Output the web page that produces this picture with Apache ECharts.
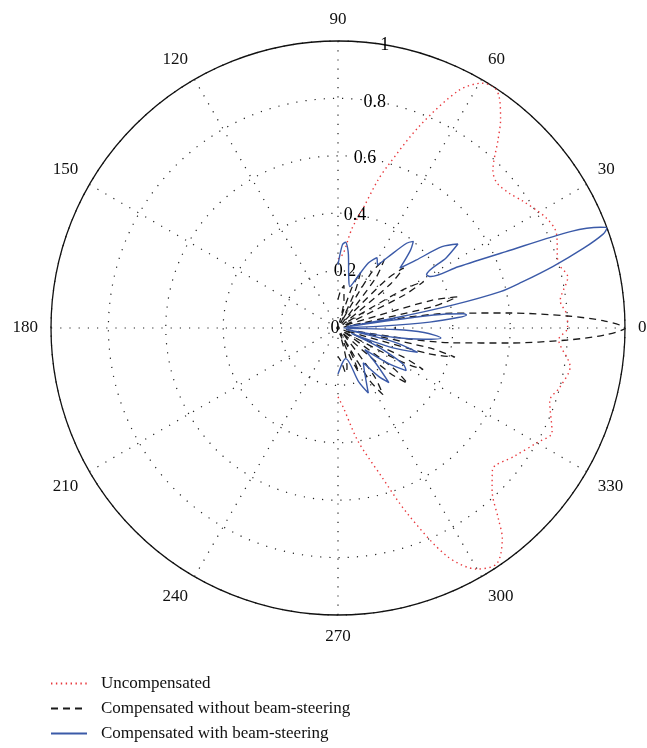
<!DOCTYPE html>
<html>
<head>
<meta charset="utf-8">
<script src="https://cdn.jsdelivr.net/npm/echarts@6/dist/echarts.min.js"></script>
<style>
  html, body { margin: 0; padding: 0; background: #fff; }
  #chart { width: 647px; height: 748px; }
</style>
</head>
<body>
<div id="chart"></div>
<script>
// 角度刻度、半径刻度
var angleTicks = [0, 30, 60, 90, 120, 150, 180, 210, 240, 270, 300, 330];
var radiusTicks = ['0', '0.2', '0.4', '0.6', '0.8', '1'];
var seriesNames = ['Uncompensated', 'Compensated without beam-steering', 'Compensated with beam-steering'];

// 未补偿 (角度, 幅度)
var uncompAngle = [90, 86, 82, 78, 75, 73, 68, 63, 59.5, 57, 55, 52, 49.6, 45.5, 42.5, 38, 34.7, 28, 23.6, 16.5, 12.5, 7, 3, 0,
    -3, -9.5, -15, -19, -26, -30, -36, -42.5, -46.5, -50, -52, -56, -60, -64.5, -69.5, -74, -80, -86, -90];
var uncompR = [0.24, 0.26, 0.35, 0.43, 0.53, 0.59, 0.76, 0.93, 0.99, 1.0, 0.98, 0.92, 0.86, 0.77, 0.75, 0.76, 0.78, 0.82, 0.83, 0.80, 0.82, 0.78, 0.80, 0.80,
    0.77, 0.82, 0.80, 0.78, 0.83, 0.80, 0.76, 0.73, 0.78, 0.87, 0.93, 0.99, 0.97, 0.88, 0.69, 0.53, 0.40, 0.28, 0.24];

// 补偿，无波束偏转
var noSteerAngle = [90, 86, 82, 78, 75, 71, 68, 65, 62, 59, 56, 53, 49, 45, 42.5, 40, 35, 30.5, 28.5, 26.5, 21, 16.5, 14.6, 12.7, 9.5,
    7.4, 5, 3, 1.5, 0, -1.5, -3, -5, -7.4, -9.5, -12.3, -14, -15.8, -20, -24, -26, -28, -33, -36, -38.5, -41, -47,
    -53, -56, -59, -61, -63, -65, -67, -72, -77, -80, -84, -90];
var noSteerR = [0.10, 0.13, 0.15, 0.10, 0.02, 0.15, 0.21, 0.14, 0.02, 0.22, 0.29, 0.22, 0.02, 0.24, 0.31, 0.24, 0.02, 0.26, 0.34, 0.26, 0.02, 0.34, 0.43, 0.34, 0.02,
    0.40, 0.60, 0.80, 0.93, 1.0, 0.93, 0.80, 0.60, 0.40, 0.02, 0.33, 0.42, 0.33, 0.02, 0.25, 0.33, 0.25, 0.02, 0.24, 0.31, 0.24, 0.02,
    0.21, 0.28, 0.21, 0.02, 0.12, 0.17, 0.12, 0.02, 0.14, 0.16, 0.12, 0.10];

// 补偿，有波束偏转
var steerAngle = [90, 87, 85, 82, 78, 74, 70, 65, 61, 58, 55, 51, 49, 47, 44, 41, 38, 35, 33, 31, 29, 27, 24.5, 22.5, 21, 20.4, 19.5, 18, 16, 14, 12.6, 11.3, 10, 9,
    8, 7.4, 6.5, 5.8, 5, 3.7, 2.5, 0.5, -1.5, -3, -5.5, -7.5, -9.5, -11, -14, -17, -20, -22, -25, -29, -32, -35, -39, -43, -47, -50, -54, -59, -65, -69, -76, -82, -90];
var steerR = [0.22, 0.29, 0.30, 0.26, 0.18, 0.15, 0.18, 0.25, 0.28, 0.26, 0.30, 0.38, 0.40, 0.37, 0.30, 0.36, 0.46, 0.51, 0.45, 0.36, 0.37, 0.47, 0.64, 0.88, 0.98, 1.0, 0.98, 0.90, 0.78, 0.66, 0.58, 0.41, 0.20, 0.03,
    0.25, 0.38, 0.44, 0.45, 0.42, 0.32, 0.15, 0.02, 0.20, 0.30, 0.36, 0.30, 0.20, 0.03, 0.20, 0.29, 0.20, 0.05, 0.15, 0.26, 0.28, 0.22, 0.12, 0.18, 0.26, 0.22, 0.15, 0.18, 0.25, 0.20, 0.11, 0.12, 0.16];

function toPolar(angles, rs) {
    var out = [];
    for (var i = 0; i < angles.length; i++) {
        out.push([rs[i], (angles[i] + 360) % 360]);
    }
    return out;
}

var labelAngle = 80;
var radiusLabelData = radiusTicks.map(function (t) { return [parseFloat(t), labelAngle]; });

var fontFamily = '"Liberation Serif", "DejaVu Serif", serif';
var chart = echarts.init(document.getElementById('chart'));

var gridDots = { color: '#222', width: 1.2, type: [1.2, 8] };

var option = {
    animation: false,
    polar: {
        center: [338, 328],
        radius: 287
    },
    angleAxis: {
        type: 'value',
        min: 0,
        max: 360,
        interval: 30,
        startAngle: 0,
        clockwise: false,
        axisLine: { lineStyle: { color: '#111', width: 1.3 } },
        axisTick: { show: false },
        axisLabel: {
            margin: 13,
            color: '#111',
            fontFamily: fontFamily,
            fontSize: 17,
            formatter: function (v) { return angleTicks.indexOf(v) >= 0 ? String(v) : ''; }
        },
        splitLine: { show: true, lineStyle: gridDots }
    },
    radiusAxis: {
        type: 'value',
        min: 0,
        max: 1,
        interval: 0.2,
        axisLine: { show: false },
        axisTick: { show: false },
        axisLabel: { show: false },
        splitLine: { show: true, lineStyle: gridDots }
    },
    legend: {
        orient: 'vertical',
        left: 45,
        top: 670,
        itemWidth: 36,
        itemHeight: 10,
        itemGap: 8,
        data: seriesNames,
        itemStyle: { opacity: 0 },
        textStyle: { fontFamily: fontFamily, fontSize: 17, color: '#111', padding: [0, 0, 0, 9] }
    },
    series: [
        {
            name: seriesNames[0],
            type: 'line',
            coordinateSystem: 'polar',
            data: toPolar(uncompAngle, uncompR),
            symbol: 'none',
            smooth: 0.3,
            lineStyle: { color: '#e8383d', width: 1.4, type: [1.4, 3.5] },
            itemStyle: { color: '#e8383d' }
        },
        {
            name: seriesNames[1],
            type: 'line',
            coordinateSystem: 'polar',
            data: toPolar(noSteerAngle, noSteerR),
            symbol: 'none',
            smooth: 0.3,
            lineStyle: { color: '#1a1a1a', width: 1.3, type: [7, 5] },
            itemStyle: { color: '#1a1a1a' }
        },
        {
            name: seriesNames[2],
            type: 'line',
            coordinateSystem: 'polar',
            data: toPolar(steerAngle, steerR),
            symbol: 'none',
            smooth: 0.3,
            lineStyle: { color: '#3b5aa8', width: 1.4 },
            itemStyle: { color: '#3b5aa8' }
        },
        {
            // 半径刻度标签
            type: 'scatter',
            coordinateSystem: 'polar',
            data: radiusLabelData,
            symbolSize: 0,
            silent: true,
            itemStyle: { opacity: 1 },
            label: {
                show: true,
                position: 'inside',
                offset: [-3, 0],
                color: '#000',
                opacity: 1,
                fontFamily: fontFamily,
                fontSize: 18,
                formatter: function (p) { return radiusTicks[p.dataIndex]; }
            }
        }
    ]
};

chart.setOption(option);
</script>
</body>
</html>
